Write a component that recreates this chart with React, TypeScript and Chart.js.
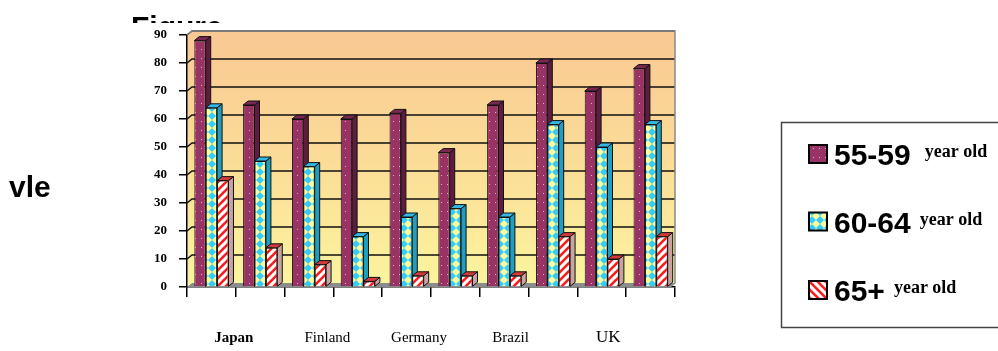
import { useEffect, useRef } from 'react';
import { Chart, registerables } from 'chart.js';

Chart.register(...registerables);

const groups = ['Japan A', 'Japan B', 'Finland A', 'Finland B', 'Germany A', 'Germany B', 'Brazil A', 'Brazil B', 'UK A', 'UK B'];
const countries = ['Japan', 'Finland', 'Germany', 'Brazil', 'UK'];
const seriesNames = ['55-59', '60-64', '65+'];
const unitText = 'year old';
const age5559 = [88, 65, 60, 60, 62, 48, 65, 80, 70, 78];
const age6064 = [64, 45, 43, 18, 25, 28, 25, 58, 50, 58];
const age65plus = [38, 14, 8, 2, 4, 4, 4, 18, 10, 18];
const yMax = 90;
const yStep = 10;

const DX = 5;
const DY = 4;

function makePattern(kind: string): CanvasPattern | string {
  const c = document.createElement('canvas');
  const g = c.getContext('2d');
  if (!g) return '#999';
  if (kind === 'dots') {
    c.width = 6; c.height = 9;
    g.fillStyle = '#993366';
    g.fillRect(0, 0, 6, 9);
    g.fillStyle = '#e0b0cc';
    g.fillRect(3, 4, 1, 1);
  } else if (kind === 'diamonds') {
    c.width = 8; c.height = 8;
    g.fillStyle = '#ffff99';
    g.fillRect(0, 0, 8, 8);
    g.fillStyle = '#33ccff';
    g.beginPath();
    g.moveTo(4, 0); g.lineTo(8, 4); g.lineTo(4, 8); g.lineTo(0, 4); g.closePath();
    g.fill();
  } else {
    c.width = 8; c.height = 8;
    g.fillStyle = '#ffffff';
    g.fillRect(0, 0, 8, 8);
    g.strokeStyle = '#ff1a1a';
    g.lineWidth = 2.6;
    const back = kind === 'stripesBack';
    const segs = back
      ? [[-4, -4, 12, 12], [-4, 4, 4, 12], [4, -4, 12, 4]]
      : [[-4, 12, 12, -4], [-4, 4, 4, -4], [4, 12, 12, 4]];
    segs.forEach(([a, b, cc, d]) => {
      g.beginPath(); g.moveTo(a, b); g.lineTo(cc, d); g.stroke();
    });
  }
  const p = g.createPattern(c, 'repeat');
  return p || '#999';
}

export default function App() {
  const ref = useRef<HTMLCanvasElement | null>(null);

  useEffect(() => {
    document.body.style.margin = '0';
    const canvas = ref.current;
    if (!canvas) return;

    const fills = [makePattern('dots'), makePattern('diamonds'), makePattern('stripes')];
    const legendFills = [makePattern('dots'), makePattern('diamonds'), makePattern('stripesBack')];
    const sideColors = ['#5e1d3e', '#1f9ec4', '#c9a3a3'];
    const topColors = ['#7a2752', '#33b8e6', '#d23a3a'];

    const threeD = {
      id: 'threeD',
      beforeDraw(chart: any) {
        const { ctx, chartArea: a } = chart;
        ctx.save();
        ctx.fillStyle = '#ffffff';
        ctx.fillRect(0, 0, chart.width, chart.height);
        const grad = ctx.createLinearGradient(0, a.top - DY, 0, a.bottom);
        grad.addColorStop(0, '#f9c893');
        grad.addColorStop(0.5, '#fbdc97');
        grad.addColorStop(1, '#fbf59e');
        ctx.fillStyle = grad;
        ctx.fillRect(a.left + DX, a.top - DY, a.right - a.left - DX, a.bottom - a.top);
        ctx.beginPath();
        ctx.moveTo(a.left, a.bottom);
        ctx.lineTo(a.left, a.top);
        ctx.lineTo(a.left + DX, a.top - DY);
        ctx.lineTo(a.left + DX, a.bottom - DY);
        ctx.closePath();
        ctx.fill();
        ctx.restore();
      },
      beforeDatasetsDraw(chart: any) {
        const { ctx, chartArea: a, scales } = chart;
        const y = scales.y;
        ctx.save();
        ctx.fillStyle = '#8c8c8c';
        ctx.beginPath();
        ctx.moveTo(a.left, a.bottom);
        ctx.lineTo(a.right - DX, a.bottom);
        ctx.lineTo(a.right, a.bottom - DY);
        ctx.lineTo(a.left + DX, a.bottom - DY);
        ctx.closePath();
        ctx.fill();
        ctx.strokeStyle = '#111';
        ctx.lineWidth = 1.5;
        for (let v = yStep; v <= yMax; v += yStep) {
          const yy = y.getPixelForValue(v);
          ctx.beginPath();
          ctx.moveTo(a.left, yy);
          ctx.lineTo(a.left + DX, yy - DY);
          ctx.lineTo(a.right, yy - DY);
          ctx.stroke();
        }
        ctx.strokeStyle = '#8a8a8a';
        ctx.lineWidth = 1.5;
        ctx.beginPath();
        ctx.moveTo(a.left, a.top);
        ctx.lineTo(a.left + DX, a.top - DY);
        ctx.lineTo(a.right, a.top - DY);
        ctx.lineTo(a.right, a.bottom - DY);
        ctx.lineTo(a.right - DX, a.bottom);
        ctx.stroke();
        chart.data.datasets.forEach((_: any, di: number) => {
          const meta = chart.getDatasetMeta(di);
          meta.data.forEach((bar: any) => {
            const l = bar.x - bar.width / 2;
            const r = bar.x + bar.width / 2;
            const t = bar.y;
            const b = bar.base;
            ctx.lineWidth = 1;
            ctx.strokeStyle = '#111';
            ctx.fillStyle = sideColors[di];
            ctx.beginPath();
            ctx.moveTo(r, t); ctx.lineTo(r + DX, t - DY); ctx.lineTo(r + DX, b - DY); ctx.lineTo(r, b);
            ctx.closePath(); ctx.fill(); ctx.stroke();
            ctx.fillStyle = topColors[di];
            ctx.beginPath();
            ctx.moveTo(l, t); ctx.lineTo(l + DX, t - DY); ctx.lineTo(r + DX, t - DY); ctx.lineTo(r, t);
            ctx.closePath(); ctx.fill(); ctx.stroke();
          });
        });
        ctx.restore();
      },
      afterDraw(chart: any) {
        const { ctx, scales } = chart;
        const x = scales.x;
        ctx.save();
        ctx.save();
        ctx.beginPath();
        ctx.rect(0, 0, 400, 23);
        ctx.clip();
        ctx.fillStyle = '#000';
        ctx.font = 'bold 30px "Liberation Sans", Arial, sans-serif';
        ctx.textBaseline = 'alphabetic';
        ctx.textAlign = 'left';
        ctx.fillText('Figure', 131, 37);
        ctx.restore();
        ctx.fillStyle = '#000';
        ctx.font = 'bold 30px "Liberation Sans", Arial, sans-serif';
        ctx.textAlign = 'left';
        ctx.fillText('vle', 9, 197);
        ctx.textAlign = 'center';
        ctx.textBaseline = 'middle';
        countries.forEach((name, k) => {
          const cx = (x.getPixelForValue(2 * k) + x.getPixelForValue(2 * k + 1)) / 2;
          ctx.font = (k === 0 ? 'bold ' : '') + (k === 4 ? '17px' : '15px') + ' "Liberation Serif", serif';
          ctx.fillText(name, cx - (k === 0 ? 2 : 6 * Math.min(k, 3)), 338);
        });
        ctx.strokeStyle = '#444';
        ctx.lineWidth = 1.5;
        ctx.strokeRect(781.5, 122.5, 260, 205);
        const cys = [154, 221.5, 290];
        seriesNames.forEach((nm, i) => {
          const cy = cys[i];
          ctx.fillStyle = legendFills[i];
          ctx.fillRect(809, cy - 9, 18, 18);
          ctx.strokeStyle = '#000';
          ctx.lineWidth = 2;
          ctx.strokeRect(809, cy - 9, 18, 18);
          ctx.fillStyle = '#000';
          ctx.textAlign = 'left';
          ctx.textBaseline = 'alphabetic';
          ctx.font = 'bold 30px "Liberation Sans", Arial, sans-serif';
          ctx.fillText(nm, 834, cy + 11);
          const w = ctx.measureText(nm).width;
          ctx.font = 'bold 18px "Liberation Serif", serif';
          ctx.fillText(unitText, 834 + w + (i === 0 ? 14 : 9), cy + 3);
        });
        ctx.restore();
      },
    };

    const chart = new Chart(canvas, {
      type: 'bar',
      data: {
        labels: groups,
        datasets: [
          { label: seriesNames[0], data: age5559, backgroundColor: fills[0] as any, borderColor: '#111', borderWidth: 1 },
          { label: seriesNames[1], data: age6064, backgroundColor: fills[1] as any, borderColor: '#111', borderWidth: 1 },
          { label: seriesNames[2], data: age65plus, backgroundColor: fills[2] as any, borderColor: '#111', borderWidth: 1 },
        ],
      },
      options: {
        responsive: false,
        maintainAspectRatio: false,
        animation: false,
        devicePixelRatio: 1,
        layout: { padding: { left: 100, right: 323, top: 35, bottom: 0 } },
        plugins: { legend: { display: false }, tooltip: { enabled: false }, title: { display: false } },
        datasets: { bar: { categoryPercentage: 0.7, barPercentage: 1.0 } },
        scales: {
          x: {
            grid: { display: true, drawOnChartArea: false, drawTicks: true, tickLength: 10, color: '#000', lineWidth: 1.5, offset: true },
            border: { display: true, color: '#000', width: 1.5 },
            ticks: { display: false },
            afterFit: (s: any) => { s.height = 64; },
          },
          y: {
            min: 0,
            max: yMax,
            grid: { display: true, drawOnChartArea: false, drawTicks: true, tickLength: 8, color: '#000', lineWidth: 1.5 },
            border: { display: true, color: '#000', width: 1.5 },
            ticks: { stepSize: yStep, color: '#000', padding: 12, font: { family: '"Liberation Serif", serif', weight: 'bold', size: 13 } },
            afterFit: (s: any) => { s.width = 87; },
          },
        },
      },
      plugins: [threeD],
    });

    return () => chart.destroy();
  }, []);

  return (
    <div style={{ width: 998, height: 351 }}>
      <canvas ref={ref} width={998} height={351} style={{ width: 998, height: 351, display: 'block' }} />
    </div>
  );
}
